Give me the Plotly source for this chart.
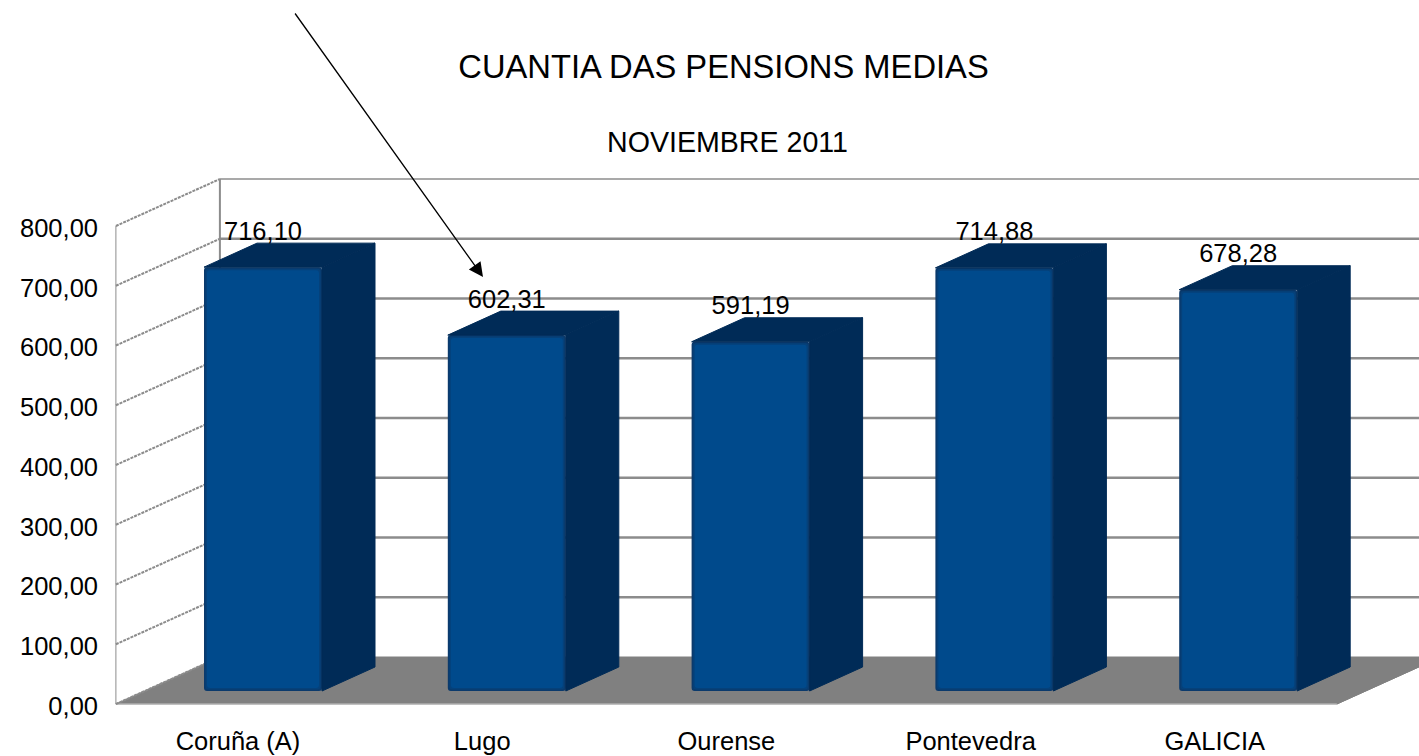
import plotly.graph_objects as go

categories = ["Coruña (A)", "Lugo", "Ourense", "Pontevedra", "GALICIA"]
pensions = [716.10, 602.31, 591.19, 714.88, 678.28]
axis_ticks = [0, 100, 200, 300, 400, 500, 600, 700, 800]
title_text = "CUANTIA DAS PENSIONS MEDIAS"
subtitle_text = "NOVIEMBRE 2011"

FONT = "Liberation Sans, Arial, sans-serif"
W, H = 1419, 756
L, B = 104, 710
UX, UX2, UY = 244.2, 243.8, 0.5975
WALL_DX, WALL_DY = 104 / UX, 47 / UY
BAR_DX, BAR_DY = 53 / UX2, 24 / UY
BAR_W = 118 / UX2
BAR_FOOT = 4 / UY
LABEL_DROP = 3 / UY
SIDE, TOP = "#002B57", "#002B57"
FRONT_LAYERS = [(0, "#0B3A6C"), (1.5, "#05417A"), (3, "#004A8C")]
GRID = "#8C8C8C"

xr = [(L - 238) / UX, (W - 238) / UX]
xr2 = [(L - 263) / UX2, (W - 263) / UX2]
yr = [(704 - B) / UY, 704 / UY]
yr2 = [(695 - B) / UY, 695 / UY]
x0 = -0.5
xn = len(categories) - 0.5

fig = go.Figure()

# floor
fig.add_trace(go.Scatter(
    x=[x0, xn, xn + WALL_DX, x0 + WALL_DX, x0], y=[0, 0, WALL_DY, WALL_DY, 0],
    mode="lines", fill="toself", fillcolor="#808080",
    line=dict(color="#808080", width=1), hoverinfo="skip", showlegend=False))
fig.add_trace(go.Scatter(
    x=[x0, xn], y=[0, 0], mode="lines",
    line=dict(color="#C4C4C4", width=1), hoverinfo="skip", showlegend=False))

# back wall gridlines
for t in axis_ticks[1:]:
    fig.add_trace(go.Scatter(
        x=[x0 + WALL_DX, xn + WALL_DX], y=[t + WALL_DY, t + WALL_DY], mode="lines",
        line=dict(color=GRID, width=1.5 if t == axis_ticks[-1] else 2.5),
        hoverinfo="skip", showlegend=False))

# side wall diagonals and verticals
for t in axis_ticks:
    fig.add_trace(go.Scatter(
        x=[x0, x0 + WALL_DX], y=[t, t + WALL_DY], mode="lines",
        line=dict(color=GRID, width=2, dash="3px,1px"),
        hoverinfo="skip", showlegend=False))
fig.add_trace(go.Scatter(
    x=[x0, x0], y=[axis_ticks[0], axis_ticks[-1]], mode="lines",
    line=dict(color=GRID, width=1), hoverinfo="skip", showlegend=False))
fig.add_trace(go.Scatter(
    x=[x0 + WALL_DX, x0 + WALL_DX], y=[WALL_DY, axis_ticks[-1] + WALL_DY], mode="lines",
    line=dict(color=GRID, width=2), hoverinfo="skip", showlegend=False))
fig.add_trace(go.Scatter(
    x=[xn, xn + WALL_DX], y=[0, WALL_DY], mode="lines",
    line=dict(color="#808080", width=1), hoverinfo="skip", showlegend=False))

idx = list(range(len(categories)))

# bars: side and top faces
for i, v in zip(idx, pensions):
    r = i + BAR_W / 2
    l = i - BAR_W / 2
    fig.add_trace(go.Scatter(
        x=[r, r + BAR_DX, r + BAR_DX, r, r],
        y=[v, v + BAR_DY, BAR_FOOT + BAR_DY, BAR_FOOT, v],
        mode="lines", fill="toself", fillcolor=SIDE, line=dict(color=SIDE, width=1),
        xaxis="x2", yaxis="y2", hoverinfo="skip", showlegend=False))
    fig.add_trace(go.Scatter(
        x=[l, l + BAR_DX, r + BAR_DX, r, l],
        y=[v, v + BAR_DY, v + BAR_DY, v, v],
        mode="lines", fill="toself", fillcolor=TOP, line=dict(color=TOP, width=1),
        xaxis="x2", yaxis="y2", hoverinfo="skip", showlegend=False))

# bars: front face, nested layers give the soft bevel
for inset, colour in FRONT_LAYERS:
    foot = BAR_FOOT + inset / UY
    fig.add_trace(go.Bar(
        x=idx, y=[v - inset / UY - foot for v in pensions], base=foot,
        width=BAR_W - 2 * inset / UX2,
        marker=dict(color=colour, line=dict(width=0)),
        xaxis="x2", yaxis="y2", customdata=pensions,
        hovertemplate="%{x}: %{customdata:.2f}<extra></extra>", showlegend=False))

# data labels
fig.add_trace(go.Scatter(
    x=idx, y=[v + BAR_DY - LABEL_DROP for v in pensions], mode="text",
    text=[f"{v:.2f}".replace(".", ",") for v in pensions],
    textposition="top center", textfont=dict(family=FONT, size=25.5, color="#000000"),
    xaxis="x2", yaxis="y2", hoverinfo="skip", showlegend=False))

fig.update_layout(
    width=W, height=H, autosize=False, barmode="overlay", barcornerradius=3,
    margin=dict(l=L, r=0, t=0, b=H - B, pad=0),
    paper_bgcolor="#FFFFFF", plot_bgcolor="#FFFFFF",
    separators=", ", showlegend=False,
    font=dict(family=FONT, size=25.5, color="#000000"),
    title=dict(text=title_text, x=723.5 / W, xanchor="center", y=1 - 67 / H, yanchor="middle",
               font=dict(family=FONT, size=32.7, color="#000000")),
    xaxis=dict(range=xr, tickmode="array", tickvals=idx, ticktext=categories, showgrid=False,
               automargin=False, zeroline=False, showline=False, ticks="outside", ticklen=8,
               tickcolor="rgba(0,0,0,0)", tickfont=dict(family=FONT, size=25.5)),
    yaxis=dict(range=yr, tickmode="array", tickvals=axis_ticks, tickformat=".2f", showgrid=False,
               automargin=False, zeroline=False, showline=False, ticks="", ticklabelshift=2,
               ticklabelstandoff=5, tickfont=dict(family=FONT, size=25.5)),
    xaxis2=dict(range=xr2, overlaying="x", visible=False),
    yaxis2=dict(range=yr2, overlaying="y", visible=False),
    annotations=[
        dict(text=subtitle_text, xref="paper", yref="paper", x=(727.5 - L) / (W - L),
             y=1 - 142 / B, xanchor="center", yanchor="middle", showarrow=False,
             font=dict(family=FONT, size=28.6, color="#000000")),
        dict(text="", xref="paper", yref="paper", x=(483 - L) / (W - L), y=1 - 277 / B,
             axref="pixel", ayref="pixel", ax=294 - 483, ay=12 - 277, showarrow=True,
             arrowhead=2, arrowsize=2.2, arrowwidth=1.3, arrowcolor="#000000", standoff=0),
    ],
)

fig.write_html("out.html", config={"displayModeBar": False},
               post_script="document.body.style.margin='0';document.body.style.overflow='hidden';")
